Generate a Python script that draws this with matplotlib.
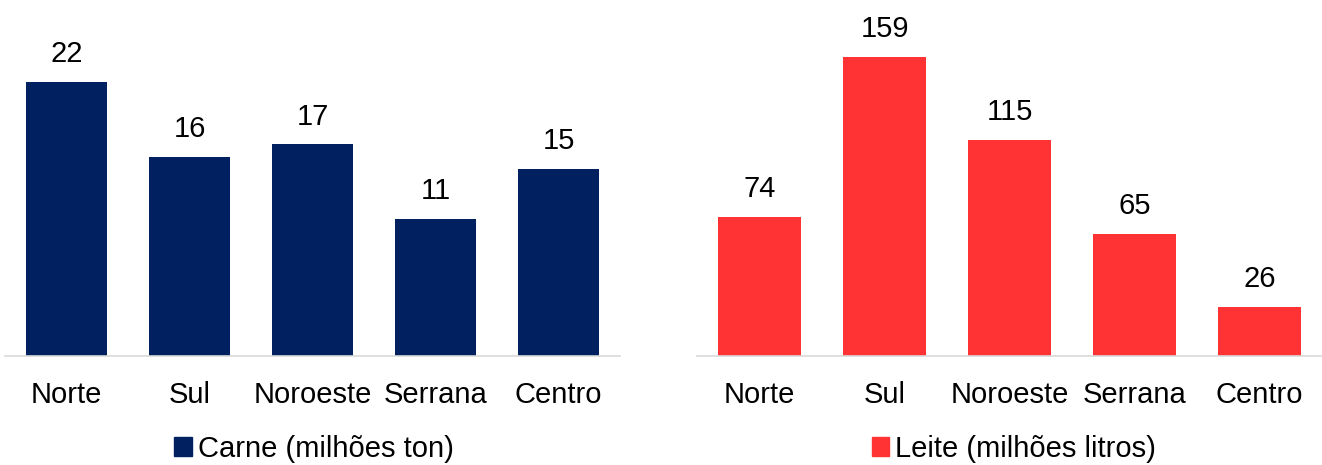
import matplotlib
matplotlib.use("Agg")
import matplotlib.pyplot as plt
from matplotlib.patches import Patch

plt.rcParams['font.family'] = ['Liberation Sans', 'DejaVu Sans']

regioes = ["Norte", "Sul", "Noroeste", "Serrana", "Centro"]
carne = [22, 16, 17, 11, 15]
leite = [74, 159, 115, 65, 26]

cor_carne = "#002060"
cor_leite = "#FF3333"

W, H = 1322, 465
fig = plt.figure(figsize=(W / 100, H / 100), dpi=100)

bottom = (H - 356) / H
top = (H - 10) / H

ax1 = fig.add_axes([5 / W, bottom, 615 / W, top - bottom])
ax2 = fig.add_axes([697 / W, bottom, 625 / W, top - bottom])

FS = 21


def painel(ax, valores, cor, ymax, rotulo, leg_x):
    x = range(len(regioes))
    bars = ax.bar(x, valores, width=0.66, color=cor)
    ax.set_xlim(-0.5, len(regioes) - 0.5)
    ax.set_ylim(0, ymax)
    ax.set_xticks(list(x))
    ax.set_xticklabels(regioes, fontsize=FS)
    ax.tick_params(axis='x', length=0, pad=18)
    ax.set_yticks([])
    for s in ("top", "right", "left"):
        ax.spines[s].set_visible(False)
    ax.spines["bottom"].set_color("#D9D9D9")
    ax.spines["bottom"].set_linewidth(1.2)
    for b, v in zip(bars, valores):
        ax.annotate(str(v), (b.get_x() + b.get_width() / 2, v),
                    xytext=(0, 10), textcoords="offset points",
                    ha="center", va="bottom", fontsize=FS)
    fig.legend(handles=[Patch(color=cor, label=rotulo)],
               loc="center", bbox_to_anchor=(leg_x / W, (H - 449) / H),
               frameon=False, fontsize=FS, handlelength=0.6,
               handleheight=0.6, handletextpad=0.2, borderpad=0)


painel(ax1, carne, cor_carne, 27.8, "Carne (milhões ton)", 314)
painel(ax2, leite, cor_leite, 184, "Leite (milhões litros)", 1014)

fig.savefig("out.png", dpi=100)
